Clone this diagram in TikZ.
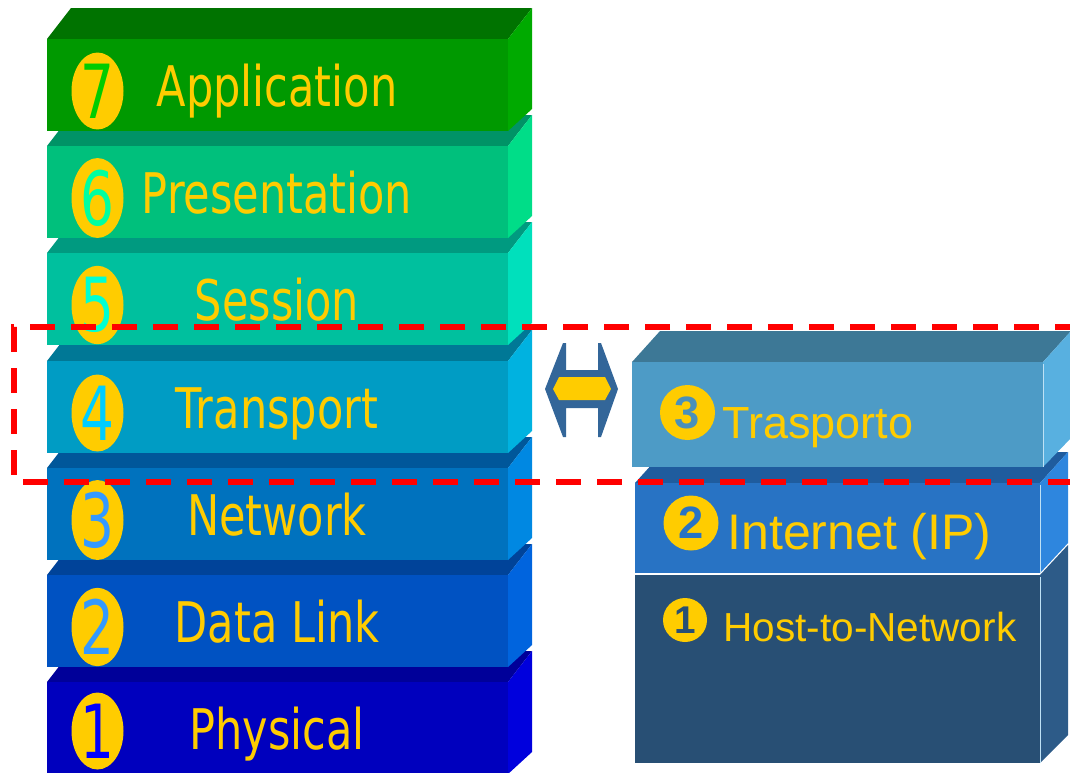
\documentclass[tikz,border=0pt]{standalone}
\usepackage{fontspec}
\usepackage{graphicx}
\usetikzlibrary{shapes.geometric}
\newfontfamily\osifont{DejaVu Sans}
\newfontfamily\tcpfont{Liberation Sans}

\tikzset{every picture/.style={line width=0.75pt}}
\tikzset{
  osilabel/.style={color={rgb, 255:red, 255; green, 204; blue, 0 }, anchor=base, inner sep=0pt, font=\osifont\fontsize{32.3}{36}\selectfont},
  osinum/.style={ellipse, fill={rgb, 255:red, 255; green, 204; blue, 0 }, minimum width=39pt, minimum height=54pt, inner sep=0pt, font=\osifont\fontsize{40}{44}\selectfont},
  tcplabel/.style={color={rgb, 255:red, 255; green, 204; blue, 0 }, anchor=base west, inner sep=0pt},
  tcpnum/.style={circle, fill={rgb, 255:red, 255; green, 204; blue, 0 }, inner sep=0pt, font=\tcpfont\bfseries},
  reddash/.style={draw={rgb, 255:red, 255; green, 0; blue, 0 }, line width=4.5pt, dash pattern=on 18.75pt off 12pt},
  edgeline/.style={draw={rgb, 255:red, 190; green, 225; blue, 245 }, line width=0.75pt}
}

\begin{document}
\begin{tikzpicture}[x=0.75pt,y=0.75pt,yscale=-1,xscale=1]
\useasboundingbox (0,0) rectangle (1070,772);
\clip (0,0) rectangle (1070,772);

%Shape: Box [1 Physical]
\fill [fill={rgb, 255:red, 0; green, 0; blue, 153 }] (47,682) -- (71,651) -- (532,651) -- (508,682) -- cycle ;
\fill [fill={rgb, 255:red, 0; green, 0; blue, 221 }] (508,682) -- (532,651) -- (532,752) -- (508,774) -- cycle ;
\fill [fill={rgb, 255:red, 0; green, 0; blue, 190 }] (47,682) -- (508,682) -- (508,774) -- (47,774) -- cycle ;
%Shape: Box [2 Data Link]
\fill [fill={rgb, 255:red, 0; green, 67; blue, 153 }] (47,575) -- (71,544) -- (532,544) -- (508,575) -- cycle ;
\fill [fill={rgb, 255:red, 0; green, 100; blue, 222 }] (508,575) -- (532,544) -- (532,645) -- (508,667) -- cycle ;
\fill [fill={rgb, 255:red, 0; green, 82; blue, 194 }] (47,575) -- (508,575) -- (508,667) -- (47,667) -- cycle ;
%Shape: Box [3 Network]
\fill [fill={rgb, 255:red, 0; green, 87; blue, 154 }] (47,468) -- (71,437) -- (532,437) -- (508,468) -- cycle ;
\fill [fill={rgb, 255:red, 0; green, 136; blue, 226 }] (508,468) -- (532,437) -- (532,538) -- (508,560) -- cycle ;
\fill [fill={rgb, 255:red, 0; green, 114; blue, 190 }] (47,468) -- (508,468) -- (508,560) -- (47,560) -- cycle ;
%Shape: Box [4 Transport]
\fill [fill={rgb, 255:red, 0; green, 120; blue, 150 }] (47,361) -- (71,330) -- (532,330) -- (508,361) -- cycle ;
\fill [fill={rgb, 255:red, 0; green, 178; blue, 224 }] (508,361) -- (532,330) -- (532,431) -- (508,453) -- cycle ;
\fill [fill={rgb, 255:red, 0; green, 156; blue, 196 }] (47,361) -- (508,361) -- (508,453) -- (47,453) -- cycle ;
%Shape: Box [5 Session]
\fill [fill={rgb, 255:red, 0; green, 154; blue, 128 }] (47,253) -- (71,222) -- (532,222) -- (508,253) -- cycle ;
\fill [fill={rgb, 255:red, 0; green, 224; blue, 188 }] (508,253) -- (532,222) -- (532,323) -- (508,345) -- cycle ;
\fill [fill={rgb, 255:red, 0; green, 192; blue, 158 }] (47,253) -- (508,253) -- (508,345) -- (47,345) -- cycle ;
%Shape: Box [6 Presentation]
\fill [fill={rgb, 255:red, 0; green, 147; blue, 102 }] (47,146) -- (71,115) -- (532,115) -- (508,146) -- cycle ;
\fill [fill={rgb, 255:red, 0; green, 221; blue, 136 }] (508,146) -- (532,115) -- (532,216) -- (508,238) -- cycle ;
\fill [fill={rgb, 255:red, 0; green, 192; blue, 124 }] (47,146) -- (508,146) -- (508,238) -- (47,238) -- cycle ;
%Shape: Box [7 Application]
\fill [fill={rgb, 255:red, 0; green, 115; blue, 0 }] (47,39) -- (71,8) -- (532,8) -- (508,39) -- cycle ;
\fill [fill={rgb, 255:red, 0; green, 170; blue, 0 }] (508,39) -- (532,8) -- (532,109) -- (508,131) -- cycle ;
\fill [fill={rgb, 255:red, 0; green, 153; blue, 0 }] (47,39) -- (508,39) -- (508,131) -- (47,131) -- cycle ;

%Shape: Box [Host-to-Network]
\fill [fill={rgb, 255:red, 45; green, 91; blue, 136 }] (1040,575) -- (1068,545) -- (1068,735) -- (1040,763) -- cycle ;
\fill [fill={rgb, 255:red, 40; green, 79; blue, 116 }] (635,575) -- (1040,575) -- (1040,763) -- (635,763) -- cycle ;
\draw [edgeline] (1040,577) -- (1040,763) ;
%Shape: Box [Internet]
\fill [fill={rgb, 255:red, 31; green, 92; blue, 158 }] (635,483) -- (663,452) -- (1068,452) -- (1040,483) -- cycle ;
\fill [fill={rgb, 255:red, 46; green, 134; blue, 222 }] (1040,483) -- (1068,452) -- (1068,543) -- (1040,573) -- cycle ;
\fill [fill={rgb, 255:red, 40; green, 115; blue, 196 }] (635,483) -- (1040,483) -- (1040,573) -- (635,573) -- cycle ;
\draw [edgeline] (1040,485) -- (1040,573) ;
%Shape: Box [Trasporto]
\fill [fill={rgb, 255:red, 61; green, 120; blue, 150 }] (632,362) -- (660,331) -- (1071,331) -- (1043,362) -- cycle ;
\fill [fill={rgb, 255:red, 88; green, 176; blue, 224 }] (1043,362) -- (1071,331) -- (1071,438) -- (1043,467) -- cycle ;
\fill [fill={rgb, 255:red, 77; green, 155; blue, 198 }] (632,362) -- (1043,362) -- (1043,467) -- (632,467) -- cycle ;
\draw [edgeline] (1043,364) -- (1043,467) ;

%Shape: Double Arrow
\fill [fill={rgb, 255:red, 51; green, 102; blue, 153 }] (545,389) -- (563,343) -- (566,343) -- (566,370) -- (598,370) -- (598,343) -- (601,343) -- (618,389) -- (601,437) -- (598,437) -- (598,408) -- (566,408) -- (566,437) -- (563,437) -- cycle ;
\fill [fill={rgb, 255:red, 255; green, 204; blue, 0 }] (553,389) -- (559,377) -- (605,377) -- (611,389) -- (605,400) -- (559,400) -- cycle ;

% Text Node
\node [osinum, text={rgb, 255:red, 0; green, 204; blue, 0 }] (num7) at (97.5,91) {\scalebox{1}[1.4]{7}};
\node [osilabel] (app) at (277,106) {\scalebox{1}[1.3]{Application}};
% Text Node
\node [osinum, text={rgb, 255:red, 0; green, 255; blue, 160 }] (num6) at (97.5,198) {\scalebox{1}[1.4]{6}};
\node [osilabel] (pres) at (277,213) {\scalebox{1}[1.3]{Presentation}};
% Text Node
\node [osinum, text={rgb, 255:red, 0; green, 255; blue, 210 }] (num5) at (97.5,305) {\scalebox{1}[1.4]{5}};
\node [osilabel] (sess) at (277,320) {\scalebox{1}[1.3]{Session}};
% Text Node
\node [osinum, text={rgb, 255:red, 0; green, 204; blue, 255 }] (num4) at (97.5,413) {\scalebox{1}[1.4]{4}};
\node [osilabel] (trans) at (277,428) {\scalebox{1}[1.3]{Transport}};
% Text Node
\node [osinum, text={rgb, 255:red, 51; green, 153; blue, 255 }] (num3) at (97.5,520) {\scalebox{1}[1.4]{3}};
\node [osilabel] (net) at (277,535) {\scalebox{1}[1.3]{Network}};
% Text Node
\node [osinum, text={rgb, 255:red, 51; green, 153; blue, 255 }] (num2) at (97.5,627) {\scalebox{1}[1.4]{2}};
\node [osilabel] (link) at (277,642) {\scalebox{1}[1.3]{Data Link}};
% Text Node
\node [osinum, text={rgb, 255:red, 0; green, 0; blue, 255 }] (num1) at (97.5,731) {\scalebox{1}[1.4]{1}};
\node [osilabel] (phys) at (277,749) {\scalebox{1}[1.3]{Physical}};

% Text Node
\node [tcpnum, minimum size=41.25pt, text={rgb, 255:red, 74; green, 144; blue, 186 }, font=\tcpfont\bfseries\fontsize{34}{36}\selectfont] (tnum3) at (687.5,412.5) {3};
\node [tcplabel, font=\tcpfont\fontsize{33.75}{38}\selectfont] (trasp) at (722,438) {Trasporto};
% Text Node
\node [tcpnum, minimum size=41.25pt, text={rgb, 255:red, 40; green, 115; blue, 196 }, font=\tcpfont\bfseries\fontsize{34}{36}\selectfont] (tnum2) at (691,523) {2};
\node [tcplabel, font=\tcpfont\fontsize{37.5}{42}\selectfont] (inet) at (727,549) {Internet (IP)};
% Text Node
\node [tcpnum, minimum size=33pt, text={rgb, 255:red, 40; green, 79; blue, 116 }, font=\tcpfont\bfseries\fontsize{29}{30}\selectfont] (tnum1) at (685,620) {1};
\node [tcplabel, font=\tcpfont\fontsize{30.4}{34}\selectfont] (host) at (723,641) {Host-to-Network};

%Shape: Dashed Rectangle
\draw [reddash] (1080,327) -- (14,327) -- (14,482) -- (1080,482) ;

\end{tikzpicture}
\end{document}
